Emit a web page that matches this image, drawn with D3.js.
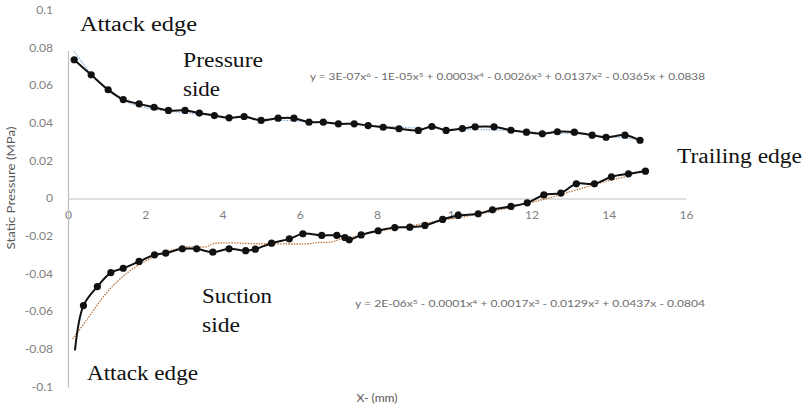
<!DOCTYPE html>
<html>
<head>
<meta charset="utf-8">
<script src="https://cdn.jsdelivr.net/npm/d3@7/dist/d3.min.js"></script>
<style>
  html, body { margin: 0; padding: 0; background: #fff; }
  svg { display: block; }
</style>
</head>
<body>
<svg id="chart" width="803" height="411"></svg>
<script>
// Static pressure along the blade chord (x in mm, pressure in MPa)
const pressureX = [0.16, 0.60, 1.04, 1.43, 1.84, 2.23, 2.60, 3.03, 3.40, 3.79, 4.17, 4.56, 5.00, 5.44, 5.85,
  6.24, 6.61, 7.00, 7.41, 7.77, 8.16, 8.57, 9.07, 9.42, 9.79, 10.21, 10.54, 11.03, 11.47, 11.87,
  12.28, 12.67, 13.11, 13.57, 13.93, 14.42, 14.81];
const pressureY = [0.0736, 0.0656, 0.0577, 0.0525, 0.0502, 0.0484, 0.0467, 0.0467, 0.0453, 0.0440, 0.0428,
  0.0435, 0.0414, 0.0426, 0.0426, 0.0405, 0.0405, 0.0396, 0.0396, 0.0387, 0.0378, 0.0370, 0.0361,
  0.0382, 0.0361, 0.0371, 0.0380, 0.0380, 0.0362, 0.0352, 0.0343, 0.0354, 0.0352, 0.0336, 0.0325,
  0.0336, 0.0309];

const suctionX = [0.18, 0.40, 0.76, 1.11, 1.43, 1.84, 2.24, 2.53, 2.96, 3.33, 3.75, 4.17, 4.60, 4.85, 5.27,
  5.73, 6.08, 6.57, 6.96, 7.17, 7.28, 7.59, 8.03, 8.46, 8.85, 9.24, 9.70, 10.10, 10.62, 10.99,
  11.47, 11.89, 12.32, 12.76, 13.16, 13.63, 14.07, 14.51, 14.95];
const suctionY = [-0.0806, -0.0568, -0.0467, -0.0393, -0.0370, -0.0334, -0.0299, -0.0290, -0.0267, -0.0267,
  -0.0285, -0.0267, -0.0277, -0.0269, -0.0237, -0.0214, -0.0187, -0.0196, -0.0196, -0.0207, -0.0219,
  -0.0193, -0.0171, -0.0154, -0.0152, -0.0143, -0.0111, -0.0090, -0.0081, -0.0060, -0.0042, -0.0023,
  0.0019, 0.0029, 0.0078, 0.0078, 0.0115, 0.0131, 0.0145];

// Trend curves drawn under each series
const pressureTrendX = [0.16, 0.6, 1.0, 1.5, 2.0, 2.5, 3.0, 4.0, 5.0, 6.0, 7.0, 8.0, 9.0, 10.0, 11.0, 12.0, 13.0, 14.0, 14.81];
const pressureTrendY = [0.0780, 0.0662, 0.0580, 0.0515, 0.0482, 0.0466, 0.0455, 0.0435, 0.0421, 0.0410, 0.0398,
  0.0386, 0.0374, 0.0368, 0.0364, 0.0352, 0.0344, 0.0330, 0.0312];
const suctionTrendX = [0.12, 0.5, 1.0, 1.5, 2.0, 2.5, 3.0, 3.6, 3.75, 5.0, 6.2, 6.5, 6.8, 7.04, 7.5, 8.0, 9.0,
  10.0, 11.0, 12.0, 12.5, 13.16, 14.0, 14.5, 14.95];
const suctionTrendY = [-0.0745, -0.0640, -0.0500, -0.0400, -0.0332, -0.0287, -0.0259, -0.0255, -0.0240, -0.0240,
  -0.0240, -0.0233, -0.0232, -0.0217, -0.0200, -0.0175, -0.0140, -0.0105, -0.0068, -0.0020, 0.0005,
  0.0046, 0.0095, 0.0120, 0.0158];

const xTicks = [0, 2, 4, 6, 8, 10, 12, 14, 16];
const yTicks = [-0.1, -0.08, -0.06, -0.04, -0.02, 0, 0.02, 0.04, 0.06, 0.08, 0.1];

// Fitted equations shown on the chart (term text, superscript)
const pressureEq = [["y = 3E-07x", "6"], [" - 1E-05x", "5"], [" + 0.0003x", "4"], [" - 0.0026x", "3"],
  [" + 0.0137x", "2"], [" - 0.0365x + 0.0838", ""]];
const suctionEq = [["y = 2E-06x", "5"], [" - 0.0001x", "4"], [" + 0.0017x", "3"], [" - 0.0129x", "2"],
  [" + 0.0437x - 0.0804", ""]];

const svg = d3.select("#chart");
const x = d3.scaleLinear().domain([0, 16]).range([68, 686]);
const y = d3.scaleLinear().domain([-0.1, 0.1]).range([387, 10]);

const tickColor = "#7f7f7f";
const sans = "Lato, 'Open Sans', sans-serif";
const serif = "'Liberation Serif', 'DejaVu Serif', serif";

// Widen a text element to a given rendered length
function fitWidth(sel, w) {
  sel.attr("textLength", w).attr("lengthAdjust", "spacingAndGlyphs");
}
function stretch(sel, k) {
  sel.each(function () {
    const len = this.getComputedTextLength();
    d3.select(this).attr("textLength", len * k).attr("lengthAdjust", "spacingAndGlyphs");
  });
}

// Horizontal axis through y = 0
const xAxis = svg.append("g")
  .attr("transform", `translate(0,${y(0)})`)
  .call(d3.axisBottom(x).tickValues(xTicks).tickSize(0).tickPadding(13).tickFormat(d3.format("d")));
xAxis.select(".domain").attr("stroke", "#bfbfbf").attr("stroke-width", 1.2);
xAxis.selectAll("text").attr("fill", tickColor).attr("font-family", sans).attr("font-size", 10.5).call(stretch, 1.15);

// Vertical axis at x = 0
const yAxis = svg.append("g")
  .attr("transform", `translate(${x(0)},0)`)
  .call(d3.axisLeft(y).tickValues(yTicks).tickSize(0).tickPadding(15)
    .tickFormat(d => d === 0 ? "0" : String(+d.toFixed(2))));
yAxis.select(".domain").attr("stroke", "#bfbfbf").attr("stroke-width", 1.2);
yAxis.selectAll("text").attr("fill", tickColor).attr("font-family", sans).attr("font-size", 10.5).call(stretch, 1.15);

// White text box behind the upper "Attack edge" label
svg.append("rect").attr("x", 62).attr("y", 4).attr("width", 140).attr("height", 47).attr("fill", "#fff");

// Axis titles
svg.append("text")
  .attr("transform", `translate(15,188) rotate(-90)`)
  .attr("text-anchor", "middle")
  .attr("font-family", sans).attr("font-size", 11).attr("fill", "#595959")
  .text("Static Pressure (MPa)").call(fitWidth, 123);
svg.append("text")
  .attr("x", 377).attr("y", 402).attr("text-anchor", "middle")
  .attr("font-family", sans).attr("font-size", 10.5).attr("fill", "#595959")
  .text("X- (mm)").call(stretch, 1.15);

const pts = (xs, ys) => xs.map((v, i) => [v, ys[i]]);
const smooth = d3.line().x(d => x(d[0])).y(d => y(d[1])).curve(d3.curveCatmullRom.alpha(0.5));

// Trend curves
svg.append("path").datum(pts(pressureTrendX, pressureTrendY))
  .attr("d", smooth).attr("fill", "none").attr("stroke", "#8db3da")
  .attr("stroke-width", 1.3).attr("stroke-dasharray", "1.5,1.2");
svg.append("path").datum(pts(suctionTrendX, suctionTrendY))
  .attr("d", smooth).attr("fill", "none").attr("stroke", "#b9753f")
  .attr("stroke-width", 1.3).attr("stroke-dasharray", "1.5,1.2");

// Measured series
const pressure = pts(pressureX, pressureY);
const suction = pts(suctionX, suctionY);
[pressure, suction].forEach(s => {
  svg.append("path").datum(s).attr("d", smooth)
    .attr("fill", "none").attr("stroke", "#111").attr("stroke-width", 2);
});
svg.append("g").selectAll("circle").data(pressure).join("circle")
  .attr("cx", d => x(d[0])).attr("cy", d => y(d[1])).attr("r", 3.6).attr("fill", "#111");
// the leading-edge suction reading is plotted as line end only
svg.append("g").selectAll("circle").data(suction.slice(1)).join("circle")
  .attr("cx", d => x(d[0])).attr("cy", d => y(d[1])).attr("r", 3.6).attr("fill", "#111");

// Equations: normal terms followed by a raised exponent
function equation(terms, px, py, w) {
  const t = svg.append("text").attr("x", px).attr("y", py)
    .attr("font-family", sans).attr("font-size", 8.5).attr("fill", "#6b6b6b");
  let raised = false;
  terms.forEach(([s, sup]) => {
    t.append("tspan").attr("dy", raised ? 3 : 0).text(s);
    raised = false;
    if (sup) {
      t.append("tspan").attr("font-size", 6).attr("dy", -3).text(sup);
      raised = true;
    }
  });
  fitWidth(t, w);
}
equation(pressureEq, 310, 80, 395);
equation(suctionEq, 355, 307, 350);

// Region labels
const labels = [
  ["Attack edge", 80, 31, 117],
  ["Pressure", 183, 67, 80],
  ["side", 183, 96, 37],
  ["Trailing edge", 677, 163, 125],
  ["Suction", 202, 303, 70],
  ["side", 202, 332, 38],
  ["Attack edge", 87, 380, 111]
];
labels.forEach(([s, px, py, w]) => {
  svg.append("text").attr("x", px).attr("y", py)
    .attr("font-family", serif).attr("font-size", 20).attr("fill", "#111")
    .text(s).call(fitWidth, w);
});
</script>
</body>
</html>
